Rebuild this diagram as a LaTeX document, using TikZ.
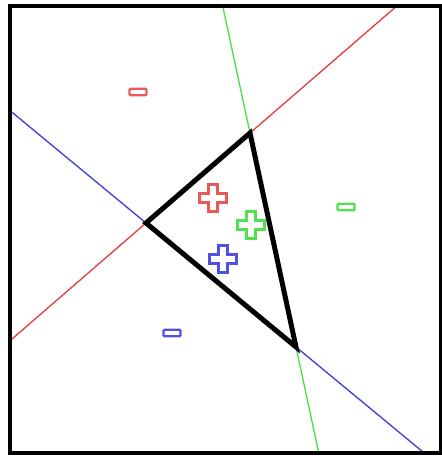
\documentclass[tikz,border=0pt]{standalone}
\usetikzlibrary{calc}
\definecolor{lred}{RGB}{228,60,60}
\definecolor{lgreen}{RGB}{70,225,70}
\definecolor{lblue}{RGB}{60,60,215}
\definecolor{sred}{RGB}{232,90,90}
\definecolor{sgreen}{RGB}{80,225,80}
\definecolor{sblue}{RGB}{80,80,225}
\tikzset{
  frameline/.style={line width=4pt,black},
  triline/.style={line width=5pt,black,line join=miter},
  sepline/.style={line width=1.3pt},
  signline/.style={line width=2.2pt,fill=white},
  plussign/.pic={\draw[signline,pic actions] (-4.5,-13.5) -- (4.5,-13.5) -- (4.5,-4.5) -- (13.5,-4.5) -- (13.5,4.5) -- (4.5,4.5) -- (4.5,13.5) -- (-4.5,13.5) -- (-4.5,4.5) -- (-13.5,4.5) -- (-13.5,-4.5) -- (-4.5,-4.5) -- cycle;},
  minussign/.pic={\draw[signline,pic actions,rounded corners=1pt] (-8.5,-3.2) rectangle (8.5,3.2);}
}
\begin{document}
\begin{tikzpicture}[x=1pt,y=-1pt]
\useasboundingbox (0,0) rectangle (442,456);
\fill[white] (0,0) rectangle (442,456);
\coordinate (A) at (146,223);
\coordinate (B) at (250,133);
\coordinate (C) at (296,347);
\begin{scope}
  \clip (10,6) rectangle (441,453);
  \draw[sepline,lred]   ($(A)!-3!(B)$) -- ($(A)!4!(B)$);
  \draw[sepline,lblue]  ($(A)!-3!(C)$) -- ($(A)!4!(C)$);
  \draw[sepline,lgreen] ($(B)!-3!(C)$) -- ($(B)!4!(C)$);
\end{scope}
\draw[triline] (A) -- (B) -- (C) -- cycle;
\pic[sred]   at (213,198) {plussign};
\pic[sgreen] at (251,225) {plussign};
\pic[sblue]  at (223,259) {plussign};
\pic[sred]   at (138,92)  {minussign};
\pic[sgreen] at (346,207) {minussign};
\pic[sblue]  at (172,333) {minussign};
\draw[frameline] (10,6) rectangle (441,453);
\end{tikzpicture}
\end{document}
